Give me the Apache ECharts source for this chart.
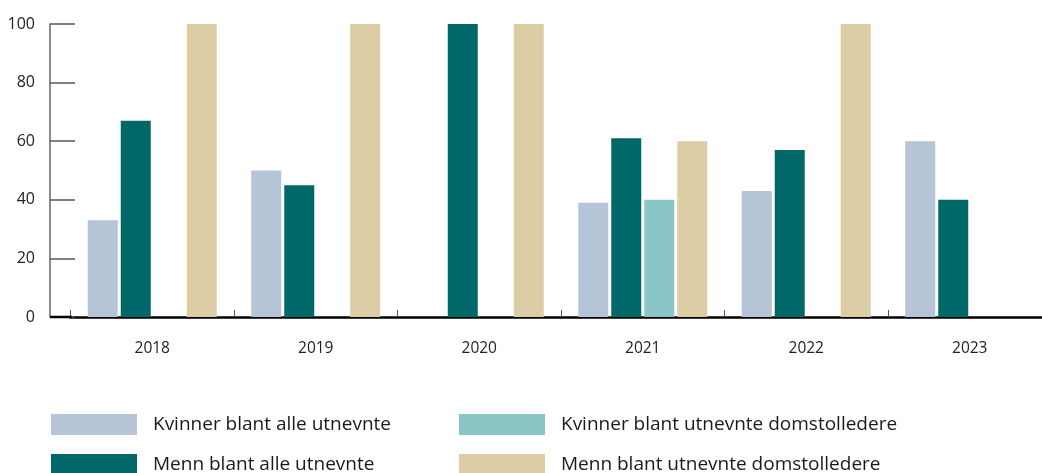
<!DOCTYPE html>
<html>
<head>
<meta charset="utf-8">
<script src="https://cdn.jsdelivr.net/npm/echarts@6/dist/echarts.min.js"></script>
<style>
html,body{margin:0;padding:0;background:#fff;overflow:hidden;width:1042px;height:473px;}
#chart{width:1056px;height:473px;}
</style>
</head>
<body>
<div id="chart"></div>
<script>
var categories = ['2018', '2019', '2020', '2021', '2022', '2023'];
var kvinnerAlle = [33, 50, 0, 39, 43, 60];
var mennAlle = [67, 45, 100, 61, 57, 40];
var kvinnerDom = [0, 0, 0, 40, 0, 0];
var mennDom = [100, 100, 100, 60, 100, 0];
var yTicks = [0, 20, 40, 60, 80, 100];

var seriesNames = ['Kvinner blant alle utnevnte', 'Menn blant alle utnevnte',
  'Kvinner blant utnevnte domstolledere', 'Menn blant utnevnte domstolledere'];
var colors = ['#b5c4d7', '#006868', '#8bc6c6', '#ddcda5'];
var values = [kvinnerAlle, mennAlle, kvinnerDom, mennDom];

var FONT = 'Open Sans';
var chart = echarts.init(document.getElementById('chart'), null, {renderer: 'canvas'});

var series = values.map(function (v, i) {
  return {
    name: seriesNames[i],
    type: 'bar',
    data: v.map(function (x) { return x === 0 ? null : x; }),
    barWidth: 30,
    barGap: '10%',
    itemStyle: {color: colors[i]},
    emphasis: {disabled: true}
  };
});

function legend(left, top, name) {
  return {
    left: left, top: top, orient: 'horizontal', padding: 0,
    itemWidth: 86, itemHeight: 21,
    icon: 'rect',
    data: [name],
    selectedMode: false,
    textStyle: {fontFamily: FONT, fontSize: 19, color: '#1a1a1a', padding: [0, 0, 0, 11]}
  };
}

chart.setOption({
  animation: false,
  color: colors,
  grid: {left: 70.5, width: 981, top: 24, bottom: 156, containLabel: false},
  legend: [
    legend(51, 414, seriesNames[0]),
    legend(51, 454, seriesNames[1]),
    legend(459, 414, seriesNames[2]),
    legend(459, 454, seriesNames[3])
  ],
  xAxis: {
    type: 'category',
    data: categories,
    axisLine: {lineStyle: {color: '#000', width: 2.5}},
    axisTick: {show: true, inside: true, length: 7, lineStyle: {color: '#555', width: 1}},
    axisLabel: {fontFamily: FONT, fontSize: 15.5, color: '#222', margin: 24},
    splitLine: {show: false}
  },
  yAxis: {
    type: 'value',
    min: 0, max: 100, interval: 20,
    offset: 20.5,
    axisLine: {show: true, lineStyle: {color: '#666', width: 1.5}},
    axisTick: {show: true, inside: true, length: 25, lineStyle: {color: '#555', width: 1.5}},
    axisLabel: {
      fontFamily: FONT, fontSize: 16, color: '#222', margin: 15,
      padding: [0, 0, 12, 0],
      formatter: function (v) { return yTicks.indexOf(v) >= 0 ? String(v) : ''; }
    },
    splitLine: {show: false}
  },
  graphic: [{
    type: 'line', z: 10,
    shape: {x1: 50, y1: 317, x2: 72, y2: 317},
    style: {stroke: '#000', lineWidth: 2.5}
  }],
  series: series
});
</script>
</body>
</html>
